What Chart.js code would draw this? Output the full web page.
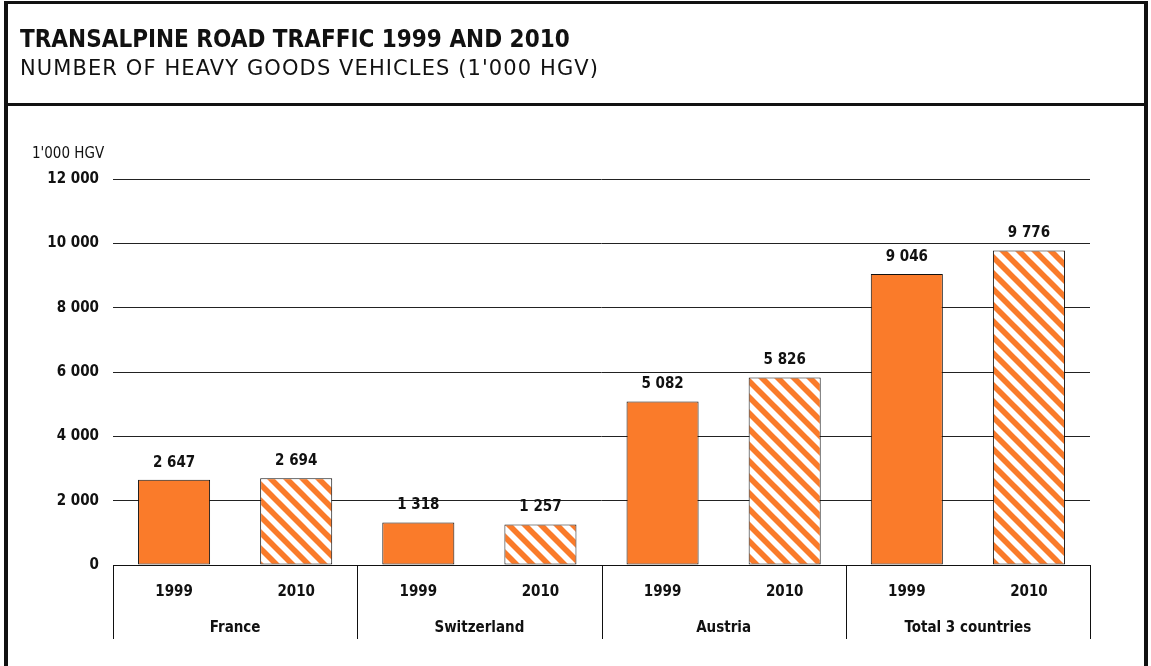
<!DOCTYPE html>
<html>
<head>
<meta charset="utf-8">
<script src="https://cdn.jsdelivr.net/npm/chart.js@4"></script>
<style>
  body { margin: 0; background: #fff; }
  #page { position: relative; width: 1151px; height: 666px; overflow: hidden; font-family: "DejaVu Sans Condensed", "DejaVu Sans", sans-serif; color: #111; }
  .rule { position: absolute; background: #111; }
  #title { position: absolute; left: 20px; top: 27px; font-size: 24px; line-height: 24px; font-weight: bold; white-space: nowrap; }
  #subtitle { position: absolute; left: 20px; top: 58px; font-family: "DejaVu Sans", sans-serif; font-size: 21px; line-height: 21px; letter-spacing: 1.1px; white-space: nowrap; }
  #chart { position: absolute; left: 0; top: 0; }
</style>
</head>
<body>
<div id="page">
  <canvas id="chart" width="1151" height="666"></canvas>
  <div class="rule" style="left:4px; top:1px; width:4px; height:665px"></div>
  <div class="rule" style="left:4px; top:1px; width:1144px; height:3px"></div>
  <div class="rule" style="left:4px; top:103px; width:1144px; height:3px"></div>
  <div class="rule" style="left:1144px; top:1px; width:4px; height:665px"></div>
  <div id="title">TRANSALPINE ROAD TRAFFIC 1999 AND 2010</div>
  <div id="subtitle">NUMBER OF HEAVY GOODS VEHICLES (1'000 HGV)</div>
</div>
<script>
// data
const countries = ['France', 'Switzerland', 'Austria', 'Total 3 countries'];
const years = ['1999', '2010'];
const hgv1999 = [2647, 1318, 5082, 9046];
const hgv2010 = [2694, 1257, 5826, 9776];
const yMax = 12000;
const yStep = 2000;
const unitLabel = "1'000 HGV";

const orange = '#fa7b2a';
const fontFamily = '"DejaVu Sans Condensed", "DejaVu Sans", sans-serif';

function fmt(v) {
    return String(v).replace(/\B(?=(\d{3})+(?!\d))/g, ' ');
}

// diagonal hatch for the 2010 bars
function makeHatch() {
    const s = 16;
    const c = document.createElement('canvas');
    c.width = s; c.height = s;
    const g = c.getContext('2d');
    g.fillStyle = '#fff';
    g.fillRect(0, 0, s, s);
    g.strokeStyle = orange;
    g.lineWidth = 5.6;
    [-s, 0, s].forEach(function(o) {
        // run each stripe past the tile so the corners join up
        g.beginPath();
        g.moveTo(o - s, -s);
        g.lineTo(o + 2 * s, 2 * s);
        g.stroke();
    });
    return g.createPattern(c, 'repeat');
}

const hatch = makeHatch();

const labels = [];
const values = [];
const fills = [];
countries.forEach(function(c, i) {
    labels.push(years[0], years[1]);
    values.push(hgv1999[i], hgv2010[i]);
    fills.push(orange, hatch);
});

const extrasPlugin = {
    id: 'extras',
    afterDatasetsDraw(chart) {
        const ctx = chart.ctx;
        const area = chart.chartArea;
        const meta = chart.getDatasetMeta(0);
        ctx.save();
        ctx.fillStyle = '#111';
        ctx.textAlign = 'center';
        ctx.textBaseline = 'middle';
        ctx.font = 'bold 15px ' + fontFamily;
        meta.data.forEach(function(bar, i) {
            ctx.fillText(fmt(values[i]), bar.x, bar.y - 17);
        });

        // group dividers and country labels
        const groupW = (area.right - area.left) / countries.length;
        ctx.strokeStyle = '#111';
        ctx.lineWidth = 1;
        for (let k = 0; k <= countries.length; k++) {
            const x = Math.round(area.left + k * groupW) + 0.5;
            ctx.beginPath();
            ctx.moveTo(x, area.bottom);
            ctx.lineTo(x, 639);
            ctx.stroke();
        }
        countries.forEach(function(c, k) {
            ctx.fillText(c, area.left + (k + 0.5) * groupW, 628);
        });

        // unit label
        ctx.font = '15px ' + fontFamily;
        ctx.textAlign = 'left';
        ctx.fillText(unitLabel, 32, 154);
        ctx.restore();
    }
};

new Chart(document.getElementById('chart'), {
    type: 'bar',
    data: {
        labels: labels,
        datasets: [{
            data: values,
            backgroundColor: fills,
            borderColor: '#111',
            borderWidth: 1,
            borderSkipped: false,
            categoryPercentage: 1,
            barPercentage: 0.59
        }]
    },
    options: {
        responsive: false,
        animation: false,
        layout: { padding: { top: 179, left: 0, right: 61, bottom: 0 } },
        plugins: {
            legend: { display: false },
            tooltip: { enabled: false }
        },
        scales: {
            x: {
                afterFit: function(s) { s.height = 101; },
                grid: { display: false, drawTicks: false },
                border: { display: true, color: '#111', width: 1 },
                ticks: {
                    color: '#111',
                    padding: 18,
                    font: { family: fontFamily, size: 15, weight: 'bold' }
                }
            },
            y: {
                min: 0,
                max: yMax,
                afterFit: function(s) { s.width = 113; },
                grid: { color: '#222', lineWidth: 1, drawTicks: false },
                border: { display: false },
                ticks: {
                    stepSize: yStep,
                    padding: 14,
                    color: '#111',
                    font: { family: fontFamily, size: 15, weight: 'bold' },
                    callback: function(v) { return fmt(v); }
                }
            }
        }
    },
    plugins: [extrasPlugin]
});
</script>
</body>
</html>
